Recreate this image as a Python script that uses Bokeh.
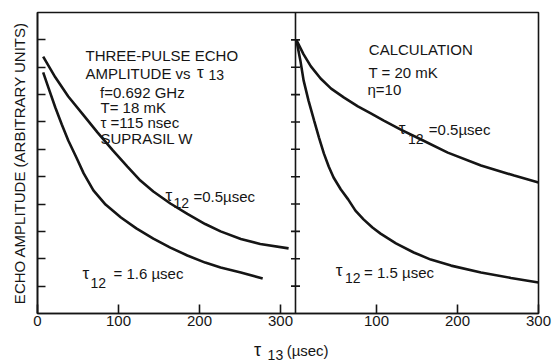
from bokeh.plotting import figure
from bokeh.layouts import column
from bokeh.models import Range1d, FixedTicker, Span, Label
from bokeh.embed import file_html
from bokeh.resources import INLINE

# ---------------- data ----------------
# Left panel: measured three-pulse echo amplitude vs tau13 (usec)
left_x_05 = [7, 22, 38, 57, 74, 93, 111, 127, 143, 164, 185, 207, 226, 251, 275, 310]
left_y_05 = [9.39, 8.63, 7.93, 7.24, 6.62, 5.96, 5.37, 4.86, 4.46, 4.02, 3.64, 3.27, 3.00, 2.72, 2.54, 2.38]

left_x_16 = [7, 14, 22, 30, 38, 48, 57, 69, 84, 103, 122, 143, 164, 185, 207, 226, 251, 278]
left_y_16 = [8.81, 8.21, 7.53, 6.91, 6.32, 5.70, 5.12, 4.50, 3.98, 3.51, 3.11, 2.74, 2.41, 2.12, 1.86, 1.68, 1.50, 1.28]

# Right panel: calculation
right_x_05 = [1, 10, 19, 31, 44, 60, 77, 93, 109, 130, 155, 188, 229, 270, 300]
right_y_05 = [10.0, 9.47, 9.03, 8.59, 8.22, 7.89, 7.57, 7.31, 7.05, 6.72, 6.36, 5.88, 5.41, 5.04, 4.79]

right_x_15 = [1, 6, 10, 16, 23, 29, 35, 41, 47, 56, 65, 74, 84, 95, 105, 124, 146, 167, 192, 229, 266, 300]
right_y_15 = [10.0, 9.25, 8.52, 7.79, 7.05, 6.43, 5.85, 5.37, 4.97, 4.53, 4.17, 3.76, 3.44, 3.14, 2.92, 2.56, 2.23, 1.97, 1.75, 1.50, 1.30, 1.13]

y_ticks = [1, 2, 3, 4, 5, 6, 7, 8, 9, 10]
left_x_ticks = [0, 100, 200, 300]
right_x_ticks = [100, 200, 300]
Y_MAX = 11
LEFT_END = 318.5   # left panel x extent (usec)
RIGHT_END = 300    # right panel x extent (usec)

# ---------------- styling ----------------
INK = "#151515"
FONT = "Liberation Sans"
W = 553
H_MAIN = 332
H_TITLE = 28

p = figure(width=W, height=H_MAIN, output_backend="svg", toolbar_location=None,
           x_range=Range1d(0, LEFT_END + RIGHT_END), y_range=Range1d(0, Y_MAX),
           min_border_left=37, min_border_right=15, min_border_top=12, min_border_bottom=19)
p.extra_x_ranges = {"right": Range1d(-LEFT_END, RIGHT_END)}
p.background_fill_color = "white"
p.border_fill_color = "white"
p.grid.visible = False
p.outline_line_color = INK
p.outline_line_width = 1.6

# bottom axis: left-panel ticks and right-panel ticks (offset by left panel extent)
xa = p.xaxis[0]
tick_pos = list(left_x_ticks) + [LEFT_END + t for t in right_x_ticks]
xa.ticker = FixedTicker(ticks=tick_pos)
xa.major_label_overrides = {LEFT_END + t: str(t) for t in right_x_ticks}
xa.major_tick_in = 9
xa.major_tick_out = 0
xa.minor_tick_line_color = None
xa.axis_line_color = INK
xa.axis_line_width = 1.6
xa.major_tick_line_color = INK
xa.major_tick_line_width = 1.6
xa.major_label_text_font = FONT
xa.major_label_text_font_size = "15px"
xa.major_label_text_color = INK
xa.major_label_standoff = 2

ya = p.yaxis[0]
ya.ticker = FixedTicker(ticks=y_ticks)
ya.major_tick_in = 8
ya.major_tick_out = 0
ya.minor_tick_line_color = None
ya.axis_line_color = INK
ya.axis_line_width = 1.6
ya.major_tick_line_color = INK
ya.major_tick_line_width = 1.6
ya.major_label_text_font_size = "1px"
ya.major_label_text_color = None
ya.major_label_standoff = 0
ya.axis_label = "ECHO AMPLITUDE (ARBITRARY UNITS)"
ya.axis_label_text_font = FONT
ya.axis_label_text_font_size = "15px"
ya.axis_label_text_font_style = "normal"
ya.axis_label_text_color = INK
ya.axis_label_standoff = 10

# divider between the panels, with cross ticks
p.add_layout(Span(location=LEFT_END, dimension="height", line_color=INK, line_width=1.6))
p.scatter(x=[0] * len(y_ticks), y=y_ticks, marker="dash", size=9, line_color=INK,
          line_width=1.6, x_range_name="right")

# curves
p.line(left_x_05, left_y_05, line_color=INK, line_width=2.6)
p.line(left_x_16, left_y_16, line_color=INK, line_width=2.6)
p.line(right_x_05, right_y_05, line_color=INK, line_width=2.6, x_range_name="right")
p.line(right_x_15, right_y_15, line_color=INK, line_width=2.6, x_range_name="right")


def lab(fig, text, x, y, size=15, rng="default"):
    fig.add_layout(Label(x=x, y=y, text=text, x_range_name=rng, text_font=FONT,
                         text_font_size=f"{size}px", text_color=INK,
                         text_align="left", text_baseline="alphabetic"))


# left panel annotation block
lab(p, "THREE-PULSE ECHO", 59.3, 9.43)
lab(p, "AMPLITUDE vs", 59.3, 8.78)
lab(p, "τ", 197.0, 8.81, 17)
lab(p, "13", 211.0, 8.70, 14)
lab(p, "f=0.692 GHz", 77.2, 8.09)
lab(p, "T= 18 mK", 77.8, 7.52)
lab(p, "τ =115 nsec", 77.8, 6.99)
lab(p, "SUPRASIL W", 77.8, 6.39)

# left curve labels
lab(p, "τ", 158.0, 4.31, 17)
lab(p, "12", 168.0, 4.02, 14)
lab(p, "=0.5µsec", 192.6, 4.28)
lab(p, "τ", 55.6, 1.46, 17)
lab(p, "12", 65.5, 1.10, 14)
lab(p, "= 1.6 µsec", 93.8, 1.46)

# right panel annotation block
lab(p, "CALCULATION", 90.5, 9.64, 15, "right")
lab(p, "T = 20 mK", 90.1, 8.82, 15, "right")
lab(p, "η=10", 88.9, 8.18, 15, "right")

# right curve labels
lab(p, "τ", 127.5, 6.76, 17, "right")
lab(p, "12", 139.0, 6.36, 14, "right")
lab(p, "=0.5µsec", 164.6, 6.73, 15, "right")
lab(p, "τ", 49.8, 1.57, 17, "right")
lab(p, "12", 61.0, 1.28, 14, "right")
lab(p, "= 1.5 µsec", 84.7, 1.51, 15, "right")

# x-axis title strip (below the main plot); no axes so the frame fills the strip
t = figure(width=W, height=H_TITLE, output_backend="svg", toolbar_location=None,
           x_range=Range1d(0, W), y_range=Range1d(0, H_TITLE),
           x_axis_location=None, y_axis_location=None,
           min_border=0, outline_line_color=None)
t.grid.visible = False
t.background_fill_color = "white"
t.border_fill_color = "white"
lab(t, "τ", 239, 11, 18)
lab(t, "13", 254, 6, 14)
lab(t, "(µsec)", 275, 10, 15)

layout = column(p, t, spacing=0)
open("out.html", "w").write(file_html(layout, INLINE))
